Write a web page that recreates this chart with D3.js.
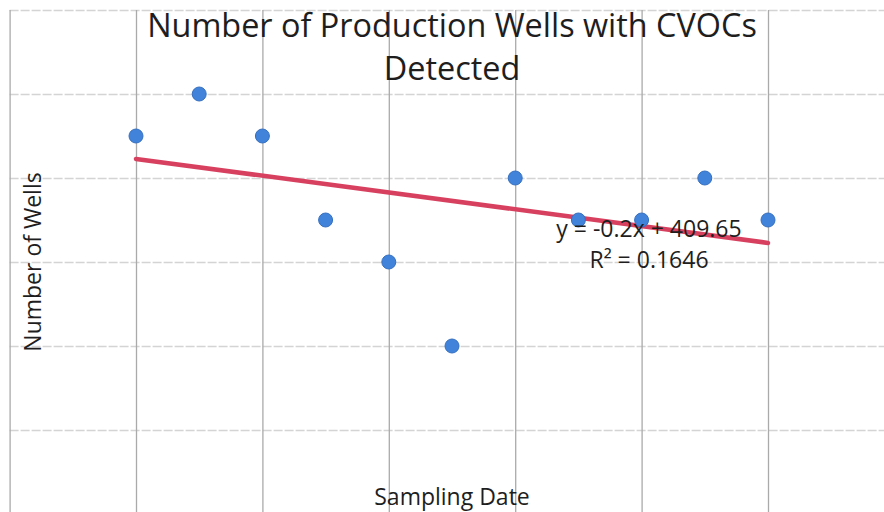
<!DOCTYPE html>
<html>
<head>
<meta charset="utf-8">
<script src="https://cdn.jsdelivr.net/npm/d3@7"></script>
<style>
  html, body { margin: 0; padding: 0; background: #fff; }
  svg { display: block; }
  text { font-family: "Open Sans", sans-serif; fill: #1e1e1e; }
</style>
</head>
<body>
<svg id="chart" width="884" height="512"></svg>
<script>
const years = [2006, 2007, 2008, 2009, 2010, 2011, 2012, 2013, 2014, 2015, 2016];
const wells = [9, 10, 9, 7, 6, 4, 8, 7, 7, 8, 7];
const xTicks = [2004, 2006, 2008, 2010, 2012, 2014, 2016, 2018];
const yTicks = [0, 2, 4, 6, 8, 10, 12];
const titleLines = ["Number of Production Wells with CVOCs", "Detected"];
const xTitle = "Sampling Date";
const yTitle = "Number of Wells";
const eqLines = ["y = -0.2x + 409.65", "R\u00B2 = 0.1646"];

const svg = d3.select("#chart");
const x = d3.scaleLinear().domain([2004, 2018]).range([9.6, 894.4]);
const y = d3.scaleLinear().domain([0, 12]).range([514, 10]);

// horizontal gridlines
svg.append("g")
  .attr("transform", `translate(${x(2004)},0)`)
  .call(d3.axisLeft(y).tickValues(yTicks).tickSize(-(x(2018) - x(2004))).tickFormat(""))
  .call(g => g.select(".domain").remove())
  .call(g => g.selectAll("line").attr("stroke", "#d4d4d4").attr("stroke-width", 1.3).attr("stroke-dasharray", "9,2"));

// vertical gridlines
svg.append("g")
  .attr("transform", `translate(0,${y(0)})`)
  .call(d3.axisBottom(x).tickValues(xTicks).tickSize(-(y(0) - y(12))).tickFormat(""))
  .call(g => g.select(".domain").remove())
  .call(g => g.selectAll("line").attr("stroke", "#aaaaaa").attr("stroke-width", 1.3));

// linear trendline (least squares)
const mx = d3.mean(years), my = d3.mean(wells);
const slope = d3.sum(years, (d, i) => (d - mx) * (wells[i] - my)) / d3.sum(years, d => (d - mx) ** 2);
const icpt = my - slope * mx;
const x0 = d3.min(years), x1 = d3.max(years);
svg.append("line")
  .attr("x1", x(x0)).attr("y1", y(slope * x0 + icpt))
  .attr("x2", x(x1)).attr("y2", y(slope * x1 + icpt))
  .attr("stroke", "#d8405f").attr("stroke-width", 4.5).attr("stroke-linecap", "round");

// points
svg.append("g").selectAll("circle")
  .data(years)
  .join("circle")
  .attr("cx", d => x(d))
  .attr("cy", (d, i) => y(wells[i]))
  .attr("r", 7)
  .attr("fill", "#4183da")
  .attr("stroke", "#3670c0")
  .attr("stroke-width", 1);

// equation label
svg.append("text")
  .attr("text-anchor", "middle")
  .attr("font-size", 23)
  .selectAll("tspan")
  .data(eqLines)
  .join("tspan")
  .attr("x", 649)
  .attr("y", (d, i) => 237 + i * 31)
  .text(d => d);

// title
svg.append("text")
  .attr("text-anchor", "middle")
  .attr("font-size", 32.4)
  .selectAll("tspan")
  .data(titleLines)
  .join("tspan")
  .attr("x", 452)
  .attr("y", (d, i) => 37 + i * 43)
  .text(d => d);

// axis titles
svg.append("text")
  .attr("text-anchor", "middle")
  .attr("font-size", 23)
  .attr("x", 452).attr("y", 505)
  .text(xTitle);

svg.append("text")
  .attr("text-anchor", "middle")
  .attr("font-size", 23)
  .attr("transform", "translate(41,262) rotate(-90)")
  .text(yTitle);
</script>
</body>
</html>
